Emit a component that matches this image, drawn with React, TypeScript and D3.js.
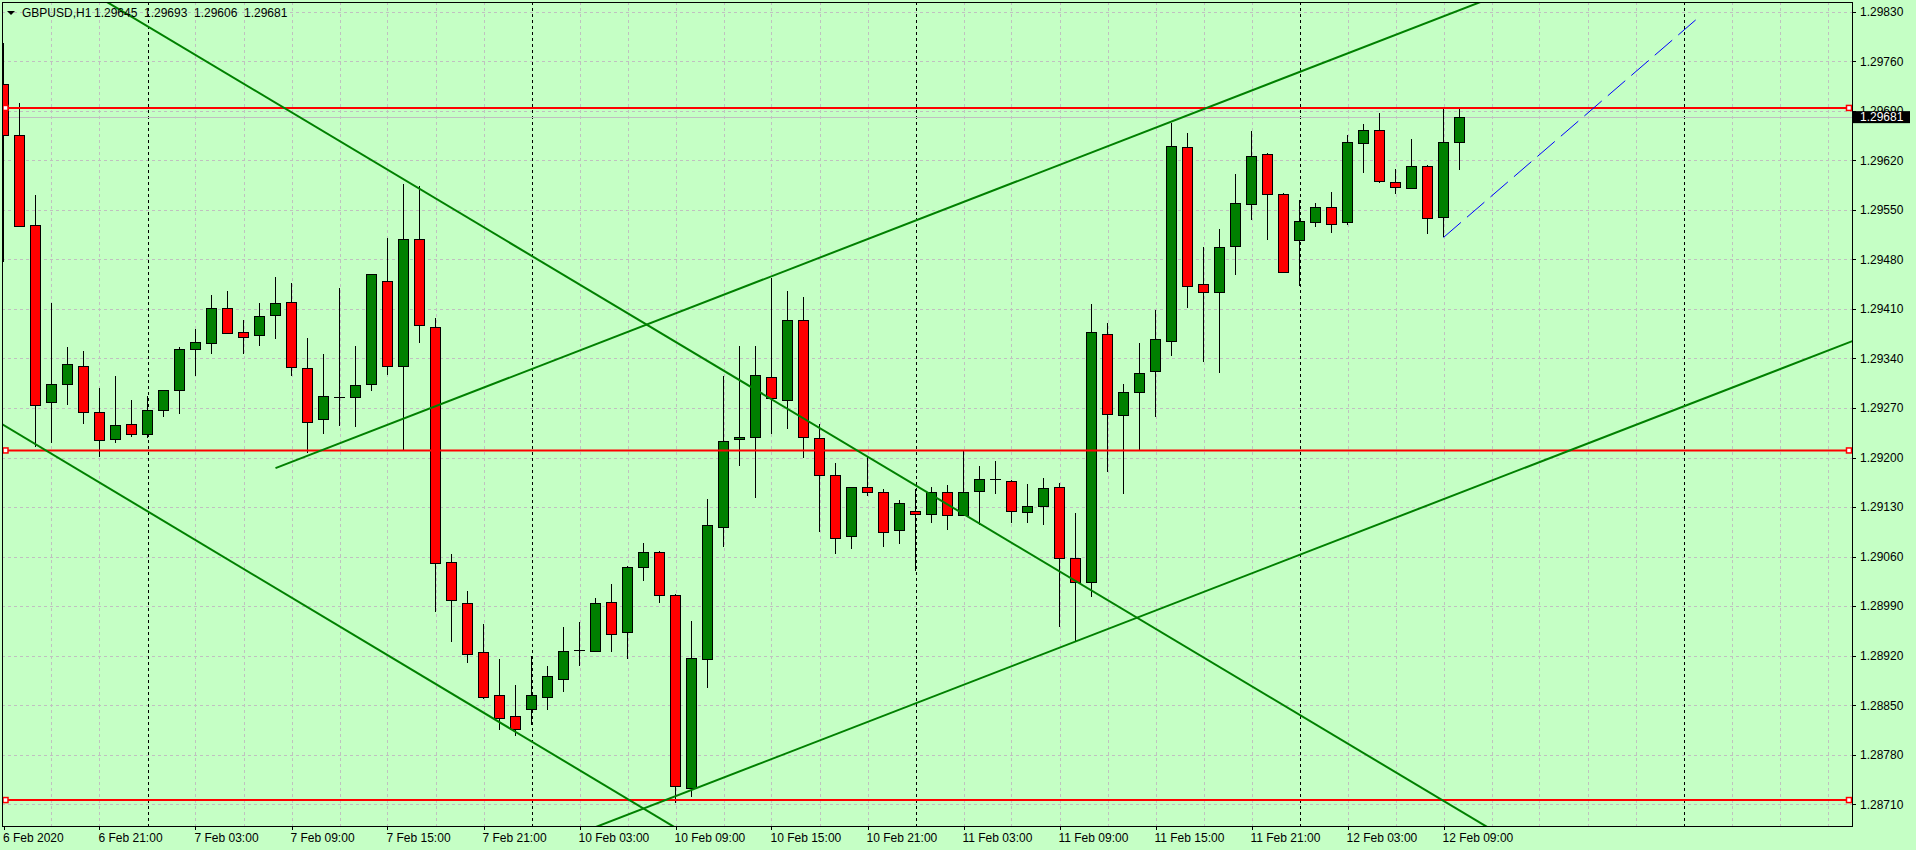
import * as d3 from "d3";

// GBPUSD H1, bars from 6 Feb 2020 15:00 to 12 Feb 2020 10:00
const opens = [
  1.29728, 1.29656, 1.29528, 1.29278, 1.29304, 1.2933, 1.29264, 1.29226, 1.29247, 1.29233,
  1.29267, 1.29295, 1.29353, 1.29362, 1.29412, 1.29377, 1.29373, 1.29401, 1.2942, 1.29326,
  1.29254, 1.29285, 1.29285, 1.29304, 1.29449, 1.29329, 1.29509, 1.29384, 1.29053, 1.28995,
  1.28925, 1.28865, 1.28835, 1.28845, 1.28861, 1.28888, 1.28928, 1.28927, 1.28996, 1.28954,
  1.29046, 1.29067, 1.29006, 1.28734, 1.28916, 1.29103, 1.29226, 1.29229, 1.29314, 1.29282,
  1.29394, 1.29228, 1.29176, 1.29089, 1.29158, 1.29152, 1.29098, 1.29124, 1.2912, 1.29152,
  1.29118, 1.29152, 1.29169, 1.29167, 1.29124, 1.29132, 1.29159, 1.29058, 1.29024, 1.29374,
  1.2926, 1.29292, 1.29322, 1.29364, 1.29639, 1.29445, 1.29435, 1.29499, 1.29558, 1.29629,
  1.29573, 1.29507, 1.29533, 1.29554, 1.29533, 1.29644, 1.29663, 1.29589, 1.29581, 1.29612,
  1.2954, 1.29645,
];
const highs = [
  1.29786, 1.29701, 1.29571, 1.29419, 1.29356, 1.29351, 1.29298, 1.29315, 1.29281, 1.29287,
  1.29296, 1.29356, 1.29381, 1.29429, 1.29436, 1.29394, 1.29418, 1.29455, 1.29446, 1.29369,
  1.29346, 1.29439, 1.29357, 1.2946, 1.2951, 1.29586, 1.29584, 1.29397, 1.29063, 1.29012,
  1.28965, 1.28916, 1.28878, 1.28919, 1.28906, 1.28961, 1.28967, 1.29002, 1.29021, 1.29047,
  1.29079, 1.29068, 1.29007, 1.28969, 1.29142, 1.29315, 1.29358, 1.29358, 1.29454, 1.29436,
  1.29427, 1.29247, 1.29192, 1.29159, 1.29202, 1.29156, 1.2914, 1.29156, 1.29158, 1.29161,
  1.29209, 1.29188, 1.29195, 1.29168, 1.29163, 1.29171, 1.29164, 1.29122, 1.29417, 1.2939,
  1.29304, 1.29362, 1.29409, 1.29673, 1.29659, 1.29498, 1.29523, 1.29601, 1.29662, 1.2963,
  1.29574, 1.29564, 1.2956, 1.29575, 1.29656, 1.29671, 1.29687, 1.29608, 1.2965, 1.29613,
  1.29694, 1.29693,
];
const lows = [
  1.29477, 1.29526, 1.29215, 1.2922, 1.29274, 1.29248, 1.29201, 1.2922, 1.29229, 1.29227,
  1.29257, 1.29261, 1.29315, 1.29346, 1.29375, 1.29346, 1.29357, 1.29367, 1.29315, 1.29206,
  1.29233, 1.29244, 1.29243, 1.29294, 1.29316, 1.29211, 1.29362, 1.28982, 1.2894, 1.28909,
  1.28859, 1.28815, 1.28806, 1.28822, 1.28843, 1.28868, 1.28906, 1.28925, 1.28925, 1.28915,
  1.29026, 1.28995, 1.28712, 1.28721, 1.28875, 1.29074, 1.29188, 1.29143, 1.29233, 1.2924,
  1.292, 1.29095, 1.29064, 1.29071, 1.29145, 1.29074, 1.29078, 1.29039, 1.29108, 1.29098,
  1.29117, 1.29104, 1.29149, 1.29107, 1.29107, 1.29105, 1.28961, 1.28939, 1.29003, 1.29179,
  1.29149, 1.29211, 1.29257, 1.29343, 1.29412, 1.29335, 1.29319, 1.29458, 1.29536, 1.29507,
  1.29462, 1.29443, 1.29526, 1.29517, 1.29528, 1.29602, 1.29588, 1.29572, 1.2958, 1.29516,
  1.29511, 1.29606,
];
const closes = [
  1.29656, 1.29528, 1.29274, 1.29304, 1.29332, 1.29265, 1.29224, 1.29246, 1.29233, 1.29267,
  1.29295, 1.29353, 1.29363, 1.29412, 1.29377, 1.2937, 1.294, 1.29418, 1.29328, 1.2925,
  1.29287, 1.29286, 1.29302, 1.29459, 1.29329, 1.29509, 1.29387, 1.2905, 1.28999, 1.28923,
  1.28861, 1.28832, 1.28817, 1.28865, 1.28891, 1.28927, 1.28928, 1.28995, 1.28951, 1.29046,
  1.29067, 1.29006, 1.28736, 1.28917, 1.29105, 1.29224, 1.29229, 1.29316, 1.29285, 1.29395,
  1.29229, 1.29176, 1.29087, 1.29158, 1.29151, 1.29096, 1.29136, 1.2912, 1.29151, 1.2912,
  1.29151, 1.29169, 1.29169, 1.29124, 1.29132, 1.29157, 1.29058, 1.29024, 1.29377, 1.29261,
  1.29292, 1.29319, 1.29367, 1.2964, 1.29443, 1.29434, 1.29498, 1.2956, 1.29626, 1.29573,
  1.29463, 1.29534, 1.29554, 1.2953, 1.29646, 1.29663, 1.29591, 1.29582, 1.29612, 1.29538,
  1.29646, 1.29681,
];

const symbol = "GBPUSD,H1";
const timeTickBars = [0, 6, 12, 18, 24, 30, 36, 42, 48, 54, 60, 66, 72, 78, 84, 90];
const timeTickLabels = [
  "6 Feb 2020", "6 Feb 21:00", "7 Feb 03:00", "7 Feb 09:00", "7 Feb 15:00", "7 Feb 21:00",
  "10 Feb 03:00", "10 Feb 09:00", "10 Feb 15:00", "10 Feb 21:00", "11 Feb 03:00",
  "11 Feb 09:00", "11 Feb 15:00", "11 Feb 21:00", "12 Feb 03:00", "12 Feb 09:00",
];
const priceTicks = [
  1.2983, 1.2976, 1.2969, 1.2962, 1.2955, 1.2948, 1.2941, 1.2934, 1.2927,
  1.292, 1.2913, 1.2906, 1.2899, 1.2892, 1.2885, 1.2878, 1.2871,
];
const daySeparatorBars = [9, 33, 57, 81, 105];
const levelPrices = [1.29694, 1.2921, 1.28716];

// trend lines: anchor bar / price pairs
const trendStartBars = [0, 0, 17, 40];
const trendStartPrices = [1.29931, 1.29246, 1.29185, 1.28704];
const trendEndBars = [80, 40, 80, 110];
const trendEndPrices = [1.2885, 1.28704, 1.29736, 1.29316];
const trendRayLeft = [true, true, false, true];
const projectionBars = [90, 106];
const projectionPrices = [1.29511, 1.29823];

const W = 1916;
const H = 850;
const L = 2;
const T = 2;
const R = 1852;
const B = 826;
const BG = "#c5ffc5";
const FONT = "'Liberation Sans', Arial, sans-serif";

export default function App() {
  const x = d3.scaleLinear().domain([0, 115]).range([3.5, 3.5 + 16 * 115]);
  const y = d3.scaleLinear().domain([1.2871, 1.2983]).range([804.3, 11.7]);
  const fmt = d3.format(".5f");
  const gridBars = d3.range(3, 116, 3);
  const px = (v) => Math.round(v) + 0.5;
  const last = opens.length - 1;

  const trendLines = trendStartBars.map((b1, i) => {
    const p1 = trendStartPrices[i];
    const b2 = trendEndBars[i];
    const p2 = trendEndPrices[i];
    const k = (p2 - p1) / (b2 - b1);
    const from = trendRayLeft[i] ? -40 : b1;
    const to = 200;
    return {
      x1: x(from), y1: y(p1 + (from - b1) * k),
      x2: x(to), y2: y(p1 + (to - b1) * k),
    };
  });

  const line = d3.line<[number, number]>()
    .x((d) => x(d[0]))
    .y((d) => y(d[1]));
  const projection = line(projectionBars.map((b, i) => [b, projectionPrices[i]]));

  return (
    <svg
      width={W}
      height={H}
      style={{ position: "absolute", left: 0, top: 0, display: "block" }}
      fontFamily={FONT}
    >
      <defs>
        <clipPath id="plot">
          <rect x={L} y={T} width={R - L} height={B - T} />
        </clipPath>
      </defs>
      <rect x={0} y={0} width={W} height={H} fill={BG} />

      <g clipPath="url(#plot)" shapeRendering="crispEdges">
        {priceTicks.map((p) => (
          <line key={p} x1={L} x2={R} y1={px(y(p))} y2={px(y(p))}
            stroke="#c0c0c0" strokeDasharray="3,3" />
        ))}
        {gridBars.filter((b) => !daySeparatorBars.includes(b)).map((b) => (
          <line key={b} x1={px(x(b))} x2={px(x(b))} y1={T} y2={B}
            stroke="#c0c0c0" strokeDasharray="3,3" />
        ))}
        {daySeparatorBars.map((b) => (
          <line key={b} x1={px(x(b))} x2={px(x(b))} y1={T} y2={B}
            stroke="#000" strokeDasharray="3,3" />
        ))}
        <line x1={L} x2={R} y1={px(y(closes[last]))} y2={px(y(closes[last]))} stroke="#c0c0c0" />
      </g>

      <g clipPath="url(#plot)" shapeRendering="crispEdges">
        {opens.map((o, i) => {
          const c = closes[i];
          const cx = Math.floor(x(i));
          const top = y(Math.max(o, c));
          const bot = y(Math.min(o, c));
          const up = c >= o;
          return (
            <g key={i}>
              <line x1={cx + 0.5} x2={cx + 0.5} y1={y(highs[i])} y2={y(lows[i])} stroke="#000" />
              {bot - top < 1.5 ? (
                <line x1={cx - 5} x2={cx + 6} y1={px(top)} y2={px(top)} stroke="#000" />
              ) : (
                <rect x={cx - 4.5} y={px(top)} width={10} height={Math.round(bot - top)}
                  fill={up ? "#008000" : "#ff0000"} stroke="#000" />
              )}
            </g>
          );
        })}
      </g>

      <g clipPath="url(#plot)">
        {levelPrices.map((p) => (
          <g key={p}>
            <line x1={L} x2={R} y1={y(p)} y2={y(p)} stroke="#ff0000" strokeWidth={2} />
            <rect x={3} y={y(p) - 2.5} width={5} height={5} fill="#fff" stroke="#ff0000" strokeWidth={1.5} />
            <rect x={R - 5.5} y={y(p) - 2.5} width={5} height={5} fill="#fff" stroke="#ff0000" strokeWidth={1.5} />
          </g>
        ))}
        {trendLines.map((t, i) => (
          <line key={i} x1={t.x1} y1={t.y1} x2={t.x2} y2={t.y2} stroke="#008000" strokeWidth={2} />
        ))}
        <path d={projection ?? ""} fill="none" stroke="#0000ff" strokeWidth={1} strokeDasharray="23,8" />
      </g>

      <rect x={L + 0.5} y={T + 0.5} width={R - L} height={B - T} fill="none" stroke="#000"
        shapeRendering="crispEdges" />

      <g fontSize={12} fill="#000">
        {priceTicks.map((p) => (
          <g key={p}>
            <line x1={R} x2={R + 4} y1={px(y(p))} y2={px(y(p))} stroke="#000" shapeRendering="crispEdges" />
            <text x={R + 8} y={y(p) + 4.3}>{fmt(p)}</text>
          </g>
        ))}
        {timeTickBars.map((b, i) => (
          <g key={b}>
            <line x1={px(x(b))} x2={px(x(b))} y1={B} y2={B + 4} stroke="#000" shapeRendering="crispEdges" />
            <text x={Math.max(x(b) - 1, L + 1)} y={842}>{timeTickLabels[i]}</text>
          </g>
        ))}
        <rect x={R + 1} y={y(closes[last]) - 6} width={57} height={12} fill="#000" />
        <text x={R + 8} y={y(closes[last]) + 4.3} fill="#fff">{fmt(closes[last])}</text>
      </g>

      <g fontSize={12} fill="#000">
        <path d="M7,11 L15,11 L11,15 Z" fill="#000" />
        <text x={22} y={17}>{symbol}</text>
        {[opens[last], highs[last], lows[last], closes[last]].map((v, i) => (
          <text key={i} x={94 + 50 * i} y={17}>{fmt(v)}</text>
        ))}
      </g>
    </svg>
  );
}
